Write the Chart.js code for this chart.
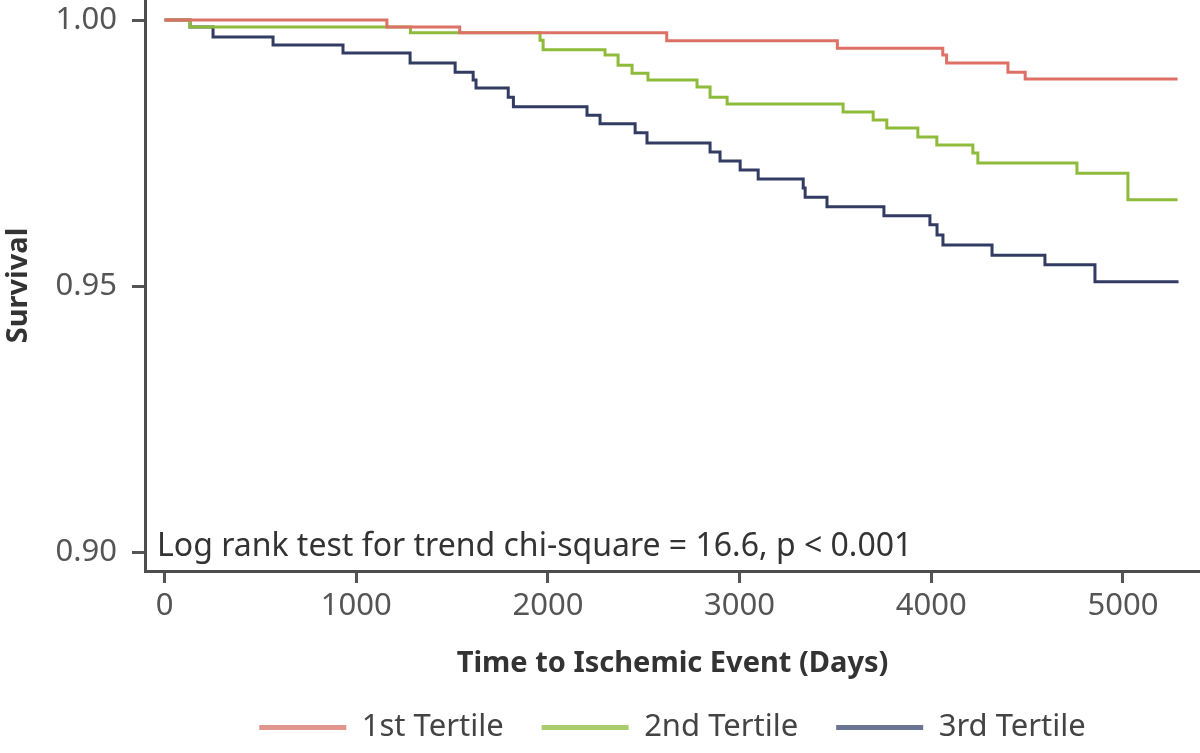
<!DOCTYPE html>
<html>
<head>
<meta charset="utf-8">
<script src="https://cdn.jsdelivr.net/npm/chart.js@4/dist/chart.umd.min.js"></script>
<style>
  html, body { margin: 0; padding: 0; background: #fff; }
  #wrap { width: 1200px; height: 753px; }
</style>
</head>
<body>
<div id="wrap"><canvas id="chartKm" width="1200" height="753"></canvas></div>
<script>
// Kaplan-Meier curves, values
const seriesNames = ['1st Tertile', '2nd Tertile', '3rd Tertile'];

const tertile1Days = [0, 1160, 1540, 2620, 3510, 4060, 4080, 4400, 4490, 5285];
const tertile1Surv = [1.000, 0.9987, 0.9976, 0.9961, 0.9947, 0.9934, 0.9919, 0.9902, 0.9889, 0.9889];

const tertile2Days = [0, 133, 1283, 1959, 1975, 2298, 2366, 2439, 2522, 2778, 2846, 2935, 3540, 3697, 3768, 3930, 4029, 4217, 4243, 4760, 5026, 5285];
const tertile2Surv = [1.000, 0.9987, 0.9976, 0.9962, 0.9944, 0.9934, 0.9915, 0.9900, 0.9887, 0.9874, 0.9855, 0.9842, 0.9827, 0.9812, 0.9797, 0.9780, 0.9765, 0.9750, 0.9731, 0.9712, 0.9662, 0.9662];

const tertile3Days = [0, 133, 253, 566, 931, 1281, 1516, 1610, 1625, 1793, 1820, 2204, 2272, 2455, 2517, 2846, 2898, 3003, 3097, 3332, 3342, 3456, 3753, 3993, 4030, 4061, 4317, 4593, 4854, 5290];
const tertile3Surv = [1.000, 0.9987, 0.9968, 0.9953, 0.9938, 0.9919, 0.9902, 0.9887, 0.9872, 0.9855, 0.9837, 0.9821, 0.9805, 0.9788, 0.9769, 0.9752, 0.9735, 0.9718, 0.9701, 0.9684, 0.9667, 0.9649, 0.9632, 0.9615, 0.9596, 0.9577, 0.9558, 0.9540, 0.9508, 0.9508];

const xTicks = [0, 1000, 2000, 3000, 4000, 5000];
const yTicks = [0.90, 0.95, 1.00];
const xRange = [-102, 5402];
const yRange = [0.89643, 1.00376];

const annotation = 'Log rank test for trend chi-square = 16.6, p < 0.001';

const lineColors = ['#de7166', '#8fbb3c', '#323c63'];
const legendColors = ['#e0968d', '#a9cc6f', '#6a7493'];
const FONT = "'Noto Sans', 'DejaVu Sans', sans-serif";

function toPoints(days, surv) {
  return days.map((d, i) => ({ x: d, y: surv[i] }));
}

const annotationPlugin = {
  id: 'logRankNote',
  afterDatasetsDraw(chart) {
    const { ctx, chartArea } = chart;
    ctx.save();
    ctx.font = `32px ${FONT}`;
    ctx.fillStyle = '#333';
    ctx.textAlign = 'left';
    ctx.textBaseline = 'middle';
    ctx.fillText(annotation, chartArea.left + 12, chartArea.bottom - 24);
    ctx.restore();
  },
};

const datasets = [
  toPoints(tertile1Days, tertile1Surv),
  toPoints(tertile2Days, tertile2Surv),
  toPoints(tertile3Days, tertile3Surv),
].map((pts, i) => ({
  label: seriesNames[i],
  data: pts,
  borderColor: lineColors[i],
  backgroundColor: lineColors[i],
  borderWidth: 3,
  stepped: 'before',
  pointRadius: 0,
  fill: false,
}));

new Chart(document.getElementById('chartKm'), {
  type: 'line',
  data: { datasets },
  plugins: [annotationPlugin],
  options: {
    responsive: false,
    animation: false,
    devicePixelRatio: 1,
    layout: { padding: 0 },
    plugins: {
      tooltip: { enabled: false },
      legend: {
        position: 'bottom',
        fullSize: false,
        labels: {
          color: '#444',
          font: { family: FONT, size: 31 },
          boxWidth: 87,
          boxHeight: 5,
          padding: 38,
          generateLabels: (chart) => chart.data.datasets.map((ds, i) => ({
            text: ds.label,
            fillStyle: legendColors[i],
            strokeStyle: legendColors[i],
            lineWidth: 0,
            fontColor: '#444',
            datasetIndex: i,
          })),
        },
      },
    },
    scales: {
      x: {
        type: 'linear',
        min: xRange[0],
        max: xRange[1],
        afterBuildTicks: (s) => { s.ticks = xTicks.map((v) => ({ value: v })); },
        afterFit: (s) => { s.height = 103; s.paddingLeft = 0; s.paddingRight = 0; },
        border: { display: true, color: '#4d4d4d', width: 3 },
        grid: { drawOnChartArea: false, drawTicks: true, tickLength: 12, tickWidth: 3, tickColor: '#555' },
        ticks: {
          color: '#555',
          padding: 5,
          maxRotation: 0,
          font: { family: FONT, size: 31 },
          callback: (v) => String(v),
        },
        title: {
          display: true,
          text: 'Time to Ischemic Event (Days)',
          color: '#333',
          padding: { top: 0, bottom: 0 },
          font: { family: FONT, size: 29, weight: 'bold', lineHeight: 0.7 },
        },
      },
      y: {
        type: 'linear',
        min: yRange[0],
        max: yRange[1],
        afterBuildTicks: (s) => { s.ticks = yTicks.map((v) => ({ value: v })); },
        afterFit: (s) => { s.width = 145; s.paddingTop = 0; s.paddingBottom = 0; },
        border: { display: true, color: '#4d4d4d', width: 3 },
        grid: { drawOnChartArea: false, drawTicks: true, tickLength: 13, tickWidth: 3, tickColor: '#555' },
        ticks: {
          color: '#555',
          padding: 15,
          font: { family: FONT, size: 31 },
          callback: (v) => Number(v).toFixed(2),
        },
        title: {
          display: true,
          text: 'Survival',
          color: '#333',
          padding: { top: 4, bottom: 0 },
          font: { family: FONT, size: 29, weight: 'bold', lineHeight: 1 },
        },
      },
    },
  },
});
</script>
</body>
</html>
